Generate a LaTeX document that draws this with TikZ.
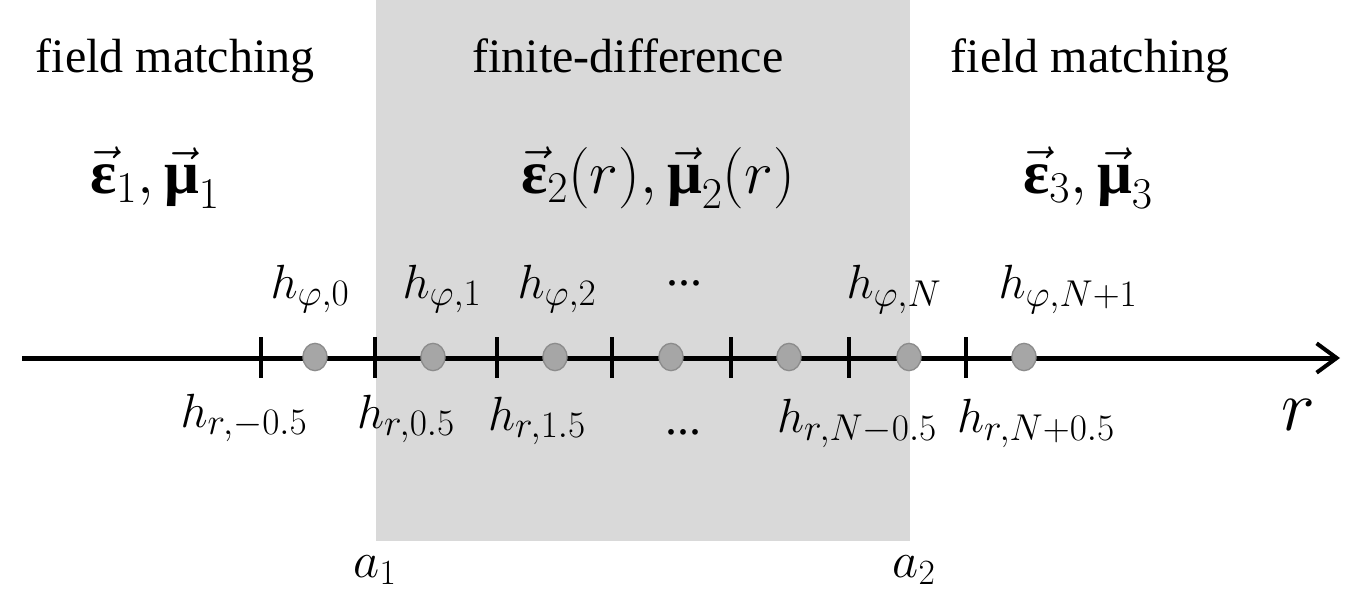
\RequirePackage{fix-cm}
\documentclass[tikz,border=0pt]{standalone}
\usepackage{fontspec}
\setmainfont{Liberation Serif}
\usetikzlibrary{arrows.meta,shapes.geometric}
\DeclareMathSizes{36}{36}{28}{22}
\DeclareMathSizes{46}{46}{33}{26}
\newcommand{\veps}{\vec{\mbox{\bfseries ε}}}
\newcommand{\vmu}{\vec{\mbox{\bfseries μ}}}
\definecolor{regiongray}{HTML}{D9D9D9}
\definecolor{dotfill}{HTML}{A6A6A6}
\definecolor{dotdraw}{HTML}{8C8C8C}
\tikzset{
  region/.style={fill=regiongray, draw=none},
  axisline/.style={line width=3.75pt, -{Straight Barb[length=15pt,width=22pt,line width=3pt]}},
  tickline/.style={line width=3pt},
  gridpt/.style={ellipse, fill=dotfill, draw=dotdraw, line width=1pt, minimum width=18pt, minimum height=20.5pt, inner sep=0pt},
  title/.style={font=\fontsize{36}{40}\selectfont, anchor=base, inner sep=0pt},
  mlabel/.style={font=\fontsize{36}{42}\selectfont, anchor=base, inner sep=0pt},
  matlabel/.style={font=\fontsize{46}{50}\selectfont, anchor=base, inner sep=0pt},
}
\begin{document}
\begin{tikzpicture}[x=0.75pt,y=-0.75pt]
\useasboundingbox (0,0) rectangle (1372,604);
\fill[region] (376,0) rectangle (910,541);
% titles
\node[title] (t1) at (175,72) {field matching};
\node[title] (t2) at (628,72) {finite-difference};
\node[title] (t3) at (1090,72) {field matching};
% materials
\node[matlabel] (m1) at (155,193) {$\veps_1,\vmu_1$};
\node[matlabel] (m2) at (658,193) {$\veps_2(r),\vmu_2(r)$};
\node[matlabel] (m3) at (1088,193) {$\veps_3,\vmu_3$};
% axis
\coordinate (ax0) at (22,358);
\coordinate (ax1) at (1340,358);
\draw[axisline] (ax0) -- (ax1);
% ticks
\foreach \i/\x in {0/261,1/375,2/497,3/612,4/731,5/849,6/966}{
  \coordinate (tt\i) at (\x,337);
  \coordinate (tb\i) at (\x,378);
  \draw[tickline] (tt\i) -- (tb\i);
}
% grid points
\foreach \i/\x in {0/315,1/433,2/555,3/671,4/789,5/909,6/1024}{
  \node[gridpt] (p\i) at (\x,357) {};
}
% h_phi labels
\node[mlabel] (hp0) at (310,298) {$h_{\varphi,0}$};
\node[mlabel] (hp1) at (442,298) {$h_{\varphi,1}$};
\node[mlabel] (hp2) at (557,298) {$h_{\varphi,2}$};
\node[mlabel] (hpd) at (684,285) {...};
\node[mlabel] (hpN) at (894,298) {$h_{\varphi,N}$};
\node[mlabel] (hpN1) at (1068,298) {$h_{\varphi,N+1}$};
% h_r labels
\node[mlabel] (hr0) at (244,427) {$h_{r,-0.5}$};
\node[mlabel] (hr1) at (406,428) {$h_{r,0.5}$};
\node[mlabel] (hr2) at (537,430) {$h_{r,1.5}$};
\node[mlabel] (hrd) at (683,434) {...};
\node[mlabel] (hrN) at (857,432) {$h_{r,N-0.5}$};
\node[mlabel] (hrN1) at (1036,432) {$h_{r,N+0.5}$};
\node[mlabel, font=\fontsize{54}{58}\selectfont] (rl) at (1298,430) {$r$};
% boundaries
\node[mlabel, font=\fontsize{38}{42}\selectfont] (a1) at (375,577) {$a_1$};
\node[mlabel, font=\fontsize{38}{42}\selectfont] (a2) at (914,577) {$a_2$};
\end{tikzpicture}
\end{document}
